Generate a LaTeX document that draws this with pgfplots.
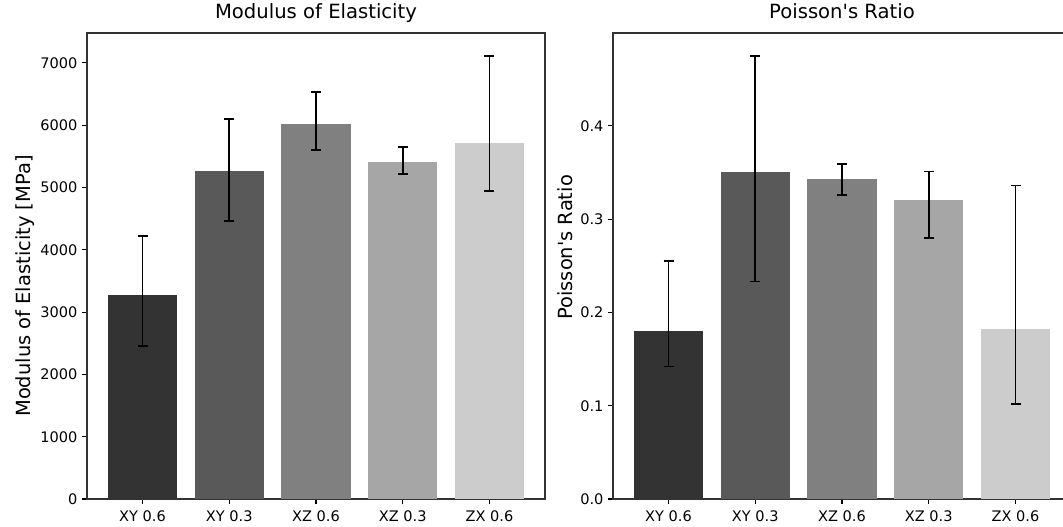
\documentclass[border=0pt]{standalone}
\usepackage{fontspec}
\setmainfont{DejaVu Sans}
\usepackage{pgfplots}
\pgfplotsset{compat=1.18}
\definecolor{g1}{HTML}{333333}
\definecolor{g2}{HTML}{595959}
\definecolor{g3}{HTML}{808080}
\definecolor{g4}{HTML}{A6A6A6}
\definecolor{g5}{HTML}{CCCCCC}
\newcommand{\bbar}[5]{\addplot[ybar, bar width=0.8, bar shift=0pt, fill=#1, draw=none,
  error bars/.cd, y dir=both, y explicit,
  error bar style={line width=1.2pt, black, draw=black},
  error mark options={rotate=90, draw=black, line width=1.2pt, mark size=3.75pt}]
  coordinates {(#2,#3) += (0,#4) -= (0,#5)};}
\pgfplotsset{
  myaxis/.style={
    scale only axis, width=343.5pt, height=349.5pt,
    xmin=-0.64, xmax=4.64, ymin=0,
    xtick={0,1,2,3,4},
    xticklabels={XY 0.6, XY 0.3, XZ 0.6, XZ 0.3, ZX 0.6},
    tick pos=left, tick align=outside,
    major tick length=3.75pt,
    tick style={black, line width=0.8pt},
    axis line style={black!80, line width=0.8pt},
    ticklabel style={font=\fontsize{10.9}{13}\selectfont},
    /pgf/number format/assume math mode=true,
    xticklabel style={anchor=base, yshift=-12.75pt},
    yticklabel style={anchor=east, inner sep=0pt, xshift=-3.25pt},
    title style={at={(0.5,1)}, anchor=base, yshift=4.9pt, font=\fontsize{14.7}{17}\selectfont},
    ylabel style={anchor=center, font=\fontsize{14.6}{17}\selectfont},
    scaled y ticks=false,
    clip=false,
  }
}
\begin{document}
\begin{tikzpicture}
\begin{axis}[myaxis, at={(65.25pt,-374.25pt)}, anchor=south west,
  ymax=7480, ytick={0,1000,...,7000},
  /pgf/number format/.cd, 1000 sep={}, /pgfplots/.cd,
  title={Modulus of Elasticity},
  ylabel={Modulus of Elasticity [MPa]},
  ylabel style={at={([xshift=-46.5pt]axis description cs:0,0.457)}}]
\bbar{g1}{0}{3270}{950}{810}
\bbar{g2}{1}{5265}{835}{805}
\bbar{g3}{2}{6020}{510}{420}
\bbar{g4}{3}{5410}{240}{195}
\bbar{g5}{4}{5714}{1396}{774}
\end{axis}
\begin{axis}[myaxis, at={(459.75pt,-374.25pt)}, anchor=south west,
  ymax=0.4995, ytick={0,0.1,0.2,0.3,0.4},
  yticklabel style={/pgf/number format/.cd, fixed, fixed zerofill, precision=1},
  title={Poisson\textquotesingle s Ratio},
  ylabel={Poisson\textquotesingle s Ratio},
  ylabel style={at={([xshift=-36pt]axis description cs:0,0.54)}}]
\bbar{g1}{0}{0.180}{0.075}{0.038}
\bbar{g2}{1}{0.351}{0.124}{0.118}
\bbar{g3}{2}{0.343}{0.016}{0.017}
\bbar{g4}{3}{0.321}{0.030}{0.041}
\bbar{g5}{4}{0.182}{0.154}{0.080}
\end{axis}
\pgfresetboundingbox
\useasboundingbox (0,0) rectangle (797.25pt,-394.5pt);
\end{tikzpicture}
\end{document}
